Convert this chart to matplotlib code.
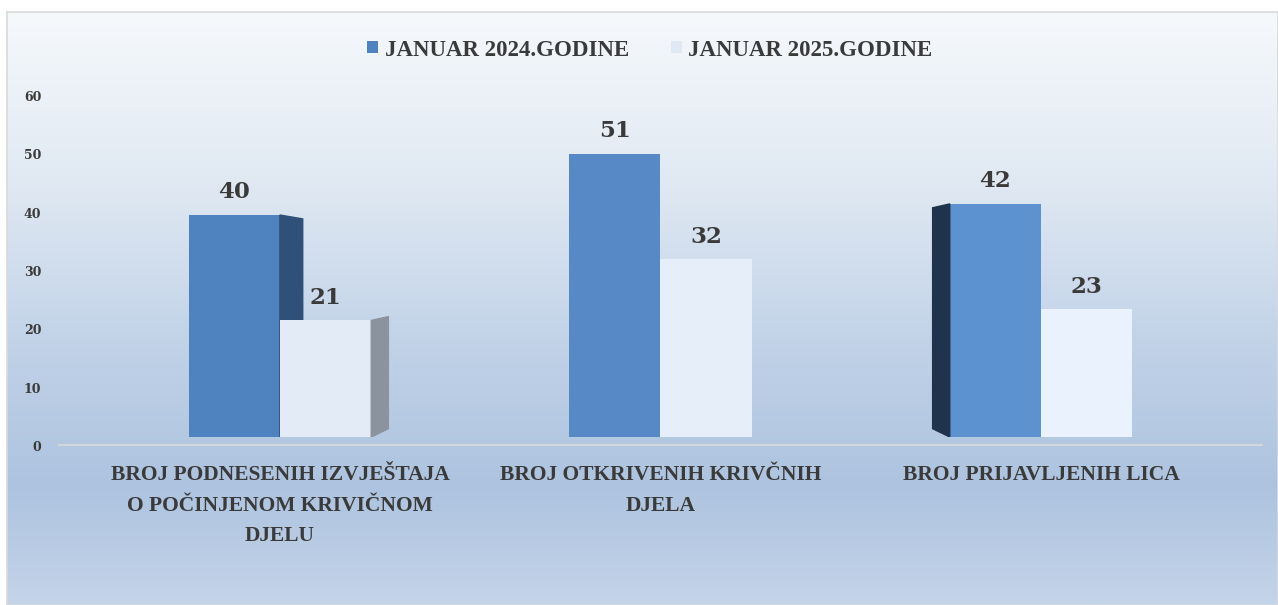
import numpy as np
import matplotlib
matplotlib.use("Agg")
import matplotlib.pyplot as plt
from matplotlib.colors import LinearSegmentedColormap
from matplotlib.patches import Polygon

# ---------------------------------------------------------------------------
# Data
# ---------------------------------------------------------------------------
categories = [
    "BROJ PODNESENIH IZVJEŠTAJA\nO POČINJENOM KRIVIČNOM\nDJELU",
    "BROJ OTKRIVENIH KRIVČNIH\nDJELA",
    "BROJ PRIJAVLJENIH LICA",
]
series_names = ["JANUAR 2024.GODINE", "JANUAR 2025.GODINE"]
values_2024 = [40, 51, 42]
values_2025 = [21, 32, 23]
yticks = [0, 10, 20, 30, 40, 50, 60]

W, H = 1278, 605
TXT = "#3a3a3a"
BLUE = "#4f83c0"
LIGHT = "#e2ebf6"

fig = plt.figure(figsize=(W / 100, H / 100), dpi=100)
fig.patch.set_facecolor("white")

# gradient chart-area background with a thin gray frame
bg = fig.add_axes([7 / W, 0, 1 - 7 / W, 1 - 12 / H])
grad = LinearSegmentedColormap.from_list(
    "bg", [(0.0, "#f6f9fc"), (0.3, "#dfe8f2"), (0.55, "#c2d3e8"),
           (0.8, "#adc3df"), (1.0, "#c4d4e9")])
bg.imshow(np.linspace(0, 1, 256)[:, None], aspect="auto", cmap=grad,
          extent=[0, 1, 0, 1])
bg.set_xlim(0, 1)
bg.set_ylim(0, 1)
bg.set_xticks([])
bg.set_yticks([])
for s in bg.spines.values():
    s.set_color("#d9d9d9")
    s.set_linewidth(1.2)

# value axis: x from 58 to 1263 px, y from 446 (0) to 96 (60)
ax = fig.add_axes([58 / W, (H - 446) / H, (1263 - 58) / W, (446 - 96) / H])
ax.patch.set_alpha(0)
for s in ax.spines.values():
    s.set_visible(False)

# bars sit on a slightly raised / compressed floor (3D perspective in the original)
bx = fig.add_axes([58 / W, (H - 437) / H, (1263 - 58) / W, (437 - 104) / H])
bx.patch.set_alpha(0)
bx.axis("off")

x = np.arange(len(categories))
bw = 0.24
b1 = bx.bar(x - bw / 2, values_2024, bw, color=BLUE, zorder=2,
            label=series_names[0])
b2 = bx.bar(x + bw / 2, values_2025, bw, color=LIGHT, zorder=3,
            label=series_names[1])
# slightly lighter fronts further right, as in the reference
b1[2].set_facecolor("#5c92cf")
b1[1].set_facecolor("#5689c6")
b2[1].set_facecolor("#e6eefa")
b2[2].set_facecolor("#e9f2fd")

# pseudo-3D side faces, derived from the bar geometry
side = 0.06
dy = 0.7
r = b1[0]
x0 = r.get_x() + r.get_width()
bx.add_patch(Polygon([(x0, r.get_height()), (x0 + side, r.get_height() - dy),
                      (x0 + side, 0), (x0, 0)],
                     closed=True, color="#2f5179", zorder=2.5))
r = b2[0]
x0 = r.get_x() + r.get_width()
bx.add_patch(Polygon([(x0, r.get_height()), (x0 + side * 0.75, r.get_height() + dy),
                      (x0 + side * 0.75, 1.5), (x0, 0)],
                     closed=True, color="#8b949e", zorder=3))
r = b1[2]
x0 = r.get_x()
bx.add_patch(Polygon([(x0, r.get_height()), (x0 - side * 0.75, r.get_height() - dy),
                      (x0 - side * 0.75, 1.5), (x0, 0)],
                     closed=True, color="#1f334d", zorder=2))

# value labels
for bars in (b1, b2):
    for rect in bars:
        bx.annotate(f"{rect.get_height():.0f}",
                    (rect.get_x() + rect.get_width() / 2, rect.get_height()),
                    xytext=(0, 8.5), textcoords="offset points",
                    ha="center", va="bottom", fontsize=16.5, fontweight="bold",
                    family="DejaVu Serif", color=TXT)

ax.axhline(0, color="#d3d6da", lw=3, zorder=1)
for a in (ax, bx):
    a.set_xlim(-0.583, 2.583)
    a.set_ylim(0, 60)
ax.set_yticks(yticks)
ax.set_yticklabels([str(t) for t in yticks], fontsize=9, fontweight="bold",
                   family="DejaVu Serif", color=TXT)
ax.tick_params(axis="y", length=0, pad=12)
ax.set_xticks(x)
ax.set_xticklabels(categories, fontsize=15.5, fontweight="bold",
                   family="Liberation Serif", color=TXT, linespacing=1.7)
ax.tick_params(axis="x", length=0, pad=14)

leg = fig.legend(handles=[b1, b2], labels=series_names, loc="center",
                 bbox_to_anchor=(650 / W, 1 - 50 / H), ncol=2, frameon=False,
                 prop={"family": "Liberation Serif", "weight": "bold", "size": 16.5},
                 handlelength=0.45, handleheight=0.45, handletextpad=0.3,
                 columnspacing=1.85)
for t in leg.get_texts():
    t.set_color(TXT)
leg.legend_handles[1].set_facecolor("#dfe8f3")

fig.savefig("out.png", dpi=100)
